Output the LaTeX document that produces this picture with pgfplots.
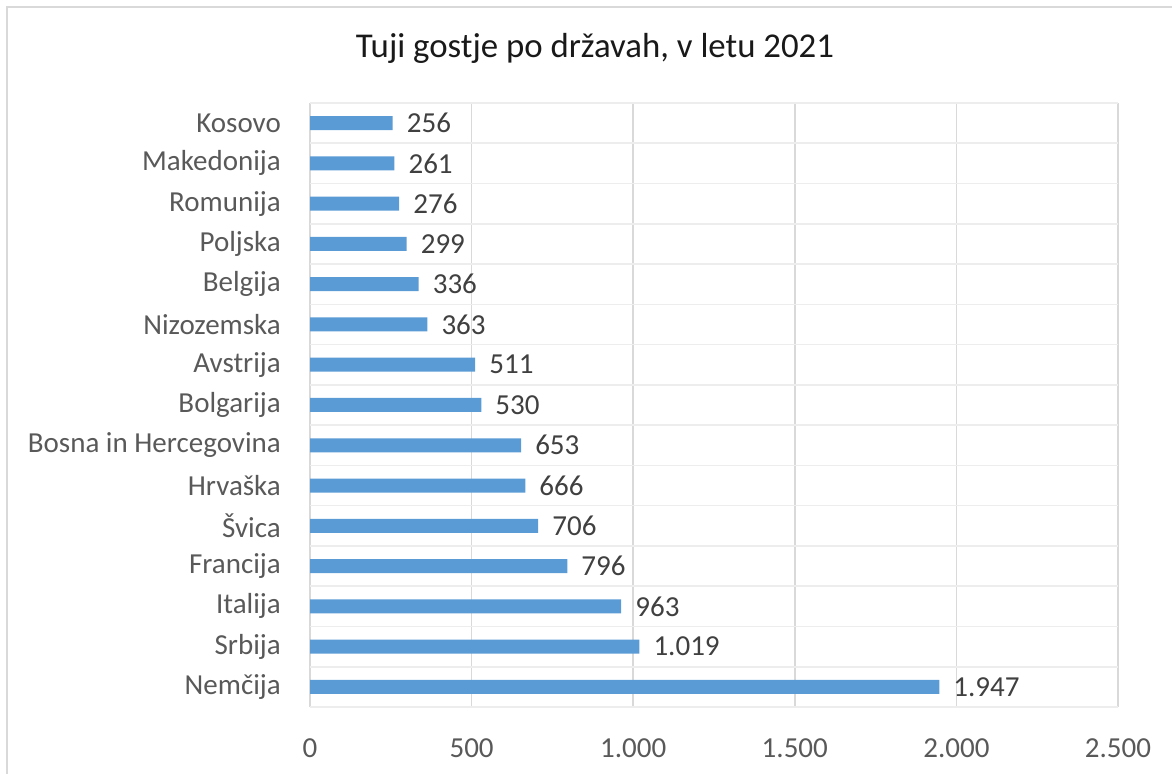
\documentclass[border=0pt]{standalone}
\usepackage{pgfplots}
\pgfplotsset{compat=1.18}
\usepackage{fontspec}
\setmainfont{Carlito}
\definecolor{barblue}{HTML}{5B9BD5}
\definecolor{ticktext}{HTML}{595959}
\definecolor{valtext}{HTML}{404040}
\definecolor{vgrid}{HTML}{D9D9D9}
\definecolor{hgrid}{HTML}{EDEDED}
\definecolor{frame}{HTML}{D9D9D9}
\pgfkeys{/pgf/number format/.cd, 1000 sep={.}, assume math mode=true}

\begin{document}
\begin{tikzpicture}
  \path[use as bounding box] (0bp,0bp) rectangle (1172bp,774bp);
  % chart frame (cut at right and bottom)
  \draw[frame, line width=2.2bp] (7bp,-20bp) -- (7bp,767bp) -- (1200bp,767bp);
  \node[font=\fontsize{34.8bp}{40bp}\selectfont, text=black!90, inner sep=0pt]
    at (595bp,726bp) {Tuji gostje po državah, v letu 2021};

  \begin{axis}[
    at={(310bp,67bp)}, anchor=south west,
    scale only axis, width=808bp, height=604bp,
    xmin=0, xmax=2500, ymin=-0.5, ymax=14.5,
    xtick={0,500,...,2500},
    ytick={0,...,14},
    minor ytick={-0.5,0.5,...,14.5},
    yticklabels={Nemčija, Srbija, Italija, Francija, Švica, Hrvaška,
      Bosna in Hercegovina, Bolgarija, Avstrija, Nizozemska, Belgija,
      Poljska, Romunija, Makedonija, Kosovo},
    axis line style={draw=none},
    major tick length=0pt, minor tick length=0pt,
    xmajorgrids, yminorgrids,
    major grid style={vgrid, line width=1.6bp},
    minor grid style={hgrid, line width=1.6bp},
    tick label style={font=\fontsize{29bp}{33bp}\selectfont, text=ticktext, inner sep=0pt},
    yticklabel style={anchor=east, xshift=-29bp},
    xticklabel style={anchor=north, yshift=-31bp},
    scaled x ticks=false,
    xbar, bar width=14bp,
    nodes near coords,
    nodes near coords style={anchor=west, inner sep=0pt, xshift=14bp,
      font=\fontsize{29bp}{33bp}\selectfont, text=valtext},
    clip=false,
  ]
  \addplot[fill=barblue, draw=none] coordinates {
    (1947,0) (1019,1) (963,2) (796,3) (706,4) (666,5) (653,6) (530,7)
    (511,8) (363,9) (336,10) (299,11) (276,12) (261,13) (256,14)
  };
  \end{axis}
\end{tikzpicture}
\end{document}
